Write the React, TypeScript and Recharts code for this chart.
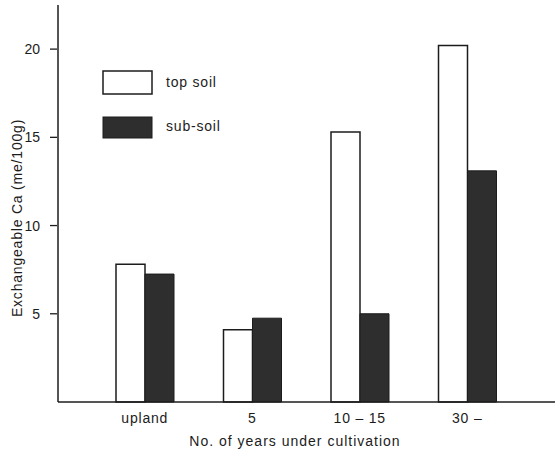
import { BarChart, Bar, XAxis, YAxis } from "recharts";

const categories = ["upland", "5", "10 – 15", "30 –"];
const topSoil = [7.8, 4.1, 15.3, 20.2];
const subSoil = [7.25, 4.75, 5.0, 13.1];
const yTicks = [5, 10, 15, 20];

const data = categories.map((c, i) => ({ name: c, top: topSoil[i], sub: subSoil[i] }));

const font = "'Liberation Sans', Arial, sans-serif";
const ink = "#1c1c1c";

function YTick(props: any) {
  const { x, y, payload } = props;
  return (
    <g>
      <line x1={x} x2={x + 7} y1={y} y2={y} stroke={ink} strokeWidth={1.3} />
      <text x={x - 10} y={y} dy={5} textAnchor="end" fontSize={14} fontFamily={font} fill={ink}>
        {payload.value}
      </text>
    </g>
  );
}

function LegendBox() {
  return (
    <svg
      width={140}
      height={80}
      style={{ position: "absolute", left: 102, top: 70, overflow: "visible" }}
    >
      <rect x={1} y={1} width={49} height={23} fill="#fff" stroke={ink} strokeWidth={1.5} />
      <text x={64} y={17} fontSize={14} fontFamily={font} fill={ink} letterSpacing={0.8}>top soil</text>
      <rect x={1} y={47} width={49} height={21} fill="#2e2e2e" stroke={ink} strokeWidth={1} />
      <text x={64} y={61} fontSize={14} fontFamily={font} fill={ink} letterSpacing={0.8}>sub-soil</text>
    </svg>
  );
}

export default function App() {
  return (
    <div style={{ width: 555, height: 459, position: "relative", background: "#fff" }}>
      <style>{"body{margin:0}"}</style>
      <BarChart
        width={555}
        height={459}
        data={data}
        margin={{ top: 5, right: 0, bottom: 0, left: 0 }}
        barCategoryGap={25}
        barGap={0}
      >
        <XAxis
          dataKey="name"
          height={57}
          axisLine={{ stroke: ink, strokeWidth: 1.5 }}
          tickLine={false}
          padding={{ left: 33, right: 34 }}
          tick={{ fontSize: 14, fontFamily: font, fill: ink, dy: 3, letterSpacing: 0.8 }}
        />
        <YAxis
          width={58}
          domain={[0, 22.5]}
          ticks={yTicks}
          axisLine={{ stroke: ink, strokeWidth: 1.5 }}
          tickLine={false}
          tick={<YTick />}
        />
        <Bar dataKey="top" name="top soil" fill="#fff" stroke={ink} strokeWidth={1.5} isAnimationActive={false} />
        <Bar dataKey="sub" name="sub-soil" fill="#2e2e2e" stroke={ink} strokeWidth={1} isAnimationActive={false} />
        <text x={295} y={446} textAnchor="middle" fontSize={14} fontFamily={font} fill={ink} letterSpacing={1}>
          No. of years under cultivation
        </text>
        <text
          x={22}
          y={218}
          transform="rotate(-90 22 218)"
          textAnchor="middle"
          fontSize={14}
          fontFamily={font}
          fill={ink}
          letterSpacing={0.8}
        >
          Exchangeable Ca (me/100g)
        </text>
      </BarChart>
      <LegendBox />
    </div>
  );
}
